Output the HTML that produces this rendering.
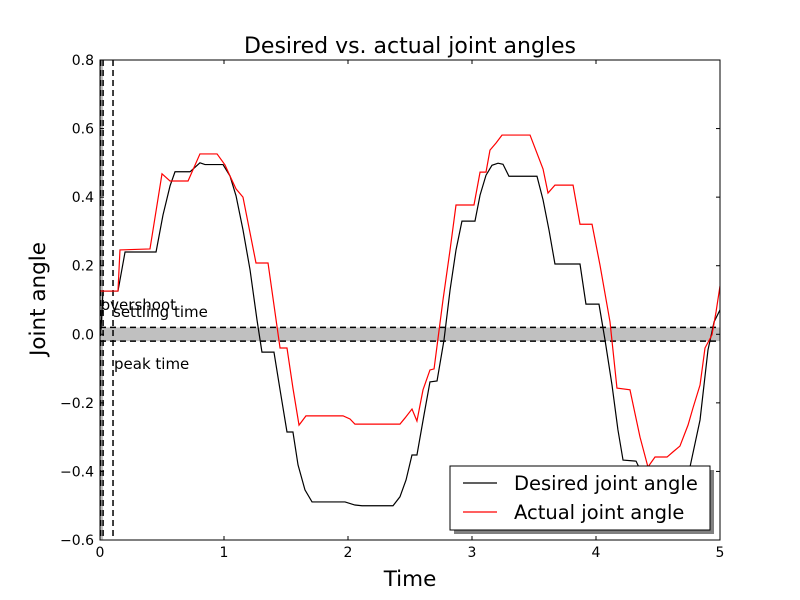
<!DOCTYPE html>
<html><head><meta charset="utf-8"><style>
body{margin:0;background:#fff;}
svg{display:block;font-family:"DejaVu Sans","Liberation Sans",sans-serif;}
</style></head><body>
<svg id="chart" width="800" height="600" xmlns="http://www.w3.org/2000/svg">
<rect width="800" height="600" fill="#fff"/>
<defs><clipPath id="clip"><rect x="100" y="60" width="620" height="480"/></clipPath></defs>
<text x="410" y="53" font-size="22" text-anchor="middle">Desired vs. actual joint angles</text>
<text x="410" y="586" font-size="21.5" text-anchor="middle">Time</text>
<text x="45" y="299" font-size="21.5" text-anchor="middle" transform="rotate(-90 45 299)">Joint angle</text>
<g id="plot" clip-path="url(#clip)"></g>
<g id="axes"></g>
</svg>
<script>
const xTicks=[0,1,2,3,4,5];
const yTicks=[-0.6,-0.4,-0.2,0.0,0.2,0.4,0.6,0.8];
const desiredT=[0.008,0.024,0.145,0.202,0.452,0.508,0.565,0.605,0.726,0.806,0.847,0.992,1.048,1.097,1.153,1.21,1.266,1.306,1.403,1.452,1.508,1.556,1.597,1.653,1.71,1.976,2.056,2.113,2.363,2.419,2.468,2.516,2.556,2.613,2.661,2.718,2.774,2.823,2.871,2.919,3.024,3.065,3.113,3.161,3.21,3.25,3.298,3.524,3.573,3.621,3.669,3.871,3.919,4.024,4.073,4.129,4.177,4.218,4.323,4.395,4.516,4.677,4.758,4.839,4.903,4.952,5.0];
const desiredY=[0.013,0.126,0.126,0.24,0.24,0.348,0.433,0.474,0.474,0.5,0.495,0.495,0.462,0.404,0.305,0.188,0.042,-0.052,-0.052,-0.162,-0.285,-0.285,-0.381,-0.454,-0.489,-0.489,-0.498,-0.5,-0.5,-0.474,-0.425,-0.352,-0.352,-0.235,-0.139,-0.136,-0.017,0.129,0.246,0.33,0.33,0.406,0.464,0.493,0.499,0.496,0.461,0.461,0.392,0.304,0.205,0.205,0.088,0.088,-0.017,-0.148,-0.279,-0.367,-0.37,-0.425,-0.469,-0.454,-0.387,-0.25,-0.046,0.036,0.071];
const actualT=[0,0.145,0.161,0.403,0.5,0.565,0.71,0.806,0.944,1.008,1.048,1.097,1.153,1.258,1.355,1.452,1.508,1.556,1.605,1.661,1.96,2.016,2.056,2.419,2.46,2.516,2.556,2.605,2.661,2.694,2.766,2.823,2.871,3.016,3.065,3.113,3.145,3.194,3.242,3.468,3.573,3.613,3.669,3.815,3.871,3.968,4.032,4.113,4.169,4.274,4.355,4.419,4.476,4.573,4.621,4.677,4.742,4.782,4.839,4.879,4.935,4.968,5.0];
const actualY=[0.126,0.126,0.246,0.249,0.468,0.447,0.447,0.526,0.526,0.494,0.462,0.424,0.4,0.208,0.208,-0.04,-0.04,-0.157,-0.265,-0.238,-0.238,-0.247,-0.262,-0.262,-0.244,-0.218,-0.253,-0.162,-0.104,-0.101,0.1,0.246,0.377,0.377,0.473,0.473,0.537,0.558,0.581,0.581,0.482,0.412,0.435,0.435,0.321,0.321,0.202,0.036,-0.157,-0.162,-0.3,-0.387,-0.358,-0.358,-0.343,-0.326,-0.265,-0.215,-0.148,-0.04,-0.002,0.065,0.141];
const band=[-0.02,0.02];
const vlines=[0.005,0.025,0.105];
const NS="http://www.w3.org/2000/svg";
const X=v=>100+(v-0)/5*620;
const Y=v=>540-(v+0.6)/1.4*480;
function mk(tag,attrs,parent){const e=document.createElementNS(NS,tag);for(const k in attrs)e.setAttribute(k,attrs[k]);parent.appendChild(e);return e;}
const plot=document.getElementById('plot'),axes=document.getElementById('axes');
let b=mk('rect',{x:100,y:Y(band[1]),width:620,height:Y(band[0])-Y(band[1]),fill:'#c0c0c0'},plot);


let vb=mk('rect',{x:X(0),y:60,width:X(vlines[1])-X(0),height:480,fill:'#c0c0c0'},plot);


band.forEach(v=>{const l=mk('line',{x1:100,x2:720,y1:Y(v),y2:Y(v),stroke:'#000','stroke-width':1.5,'stroke-dasharray':'6,4'},plot);

});
vlines.forEach(v=>{const l=mk('line',{x1:X(v),x2:X(v),y1:60,y2:540,stroke:'#000','stroke-width':1.5,'stroke-dasharray':'6,4'},plot);

});
function series(T,V,color,name){const p=mk('polyline',{points:T.map((t,i)=>X(t)+','+Y(V[i])).join(' '),fill:'none',stroke:color,'stroke-width':1.2},plot);

}
series(desiredT,desiredY,'#000','desired-line');
series(actualT,actualY,'#f00','actual-line');
[['overshoot',101,310],['settling time',113,317],['peak time',114,369]].forEach(a=>{const t=mk('text',{x:a[1],y:a[2],'font-size':15},plot);t.textContent=a[0];

});
let fr=mk('rect',{x:100,y:60,width:620,height:480,fill:'none',stroke:'#000','stroke-width':1},axes);


xTicks.forEach(v=>{const x=X(v);
mk('line',{x1:x,x2:x,y1:540,y2:536,stroke:'#000'},axes);mk('line',{x1:x,x2:x,y1:60,y2:64,stroke:'#000'},axes);
const t=mk('text',{x:x,y:557,'font-size':14,'text-anchor':'middle'},axes);t.textContent=v;

});
yTicks.forEach(v=>{const y=Y(v);
mk('line',{x1:100,x2:104,y1:y,y2:y,stroke:'#000'},axes);mk('line',{x1:720,x2:716,y1:y,y2:y,stroke:'#000'},axes);
const t=mk('text',{x:94,y:y+5,'font-size':14,'text-anchor':'end'},axes);t.textContent=(v<0?'\u2212':'')+Math.abs(v).toFixed(1);

});
const lg=mk('g',{},axes);


mk('rect',{x:454,y:470,width:260,height:64,fill:'#808080'},lg);
mk('rect',{x:450,y:466,width:260,height:64,fill:'#fff',stroke:'#000'},lg);
[['Desired joint angle','#000',483],['Actual joint angle','#f00',512]].forEach(e=>{
mk('line',{x1:463,x2:497,y1:e[2],y2:e[2],stroke:e[1],'stroke-width':1.2},lg);
const t=mk('text',{x:514,y:e[2]+7,'font-size':19.5},lg);t.textContent=e[0];

});
</script>
</body></html>
